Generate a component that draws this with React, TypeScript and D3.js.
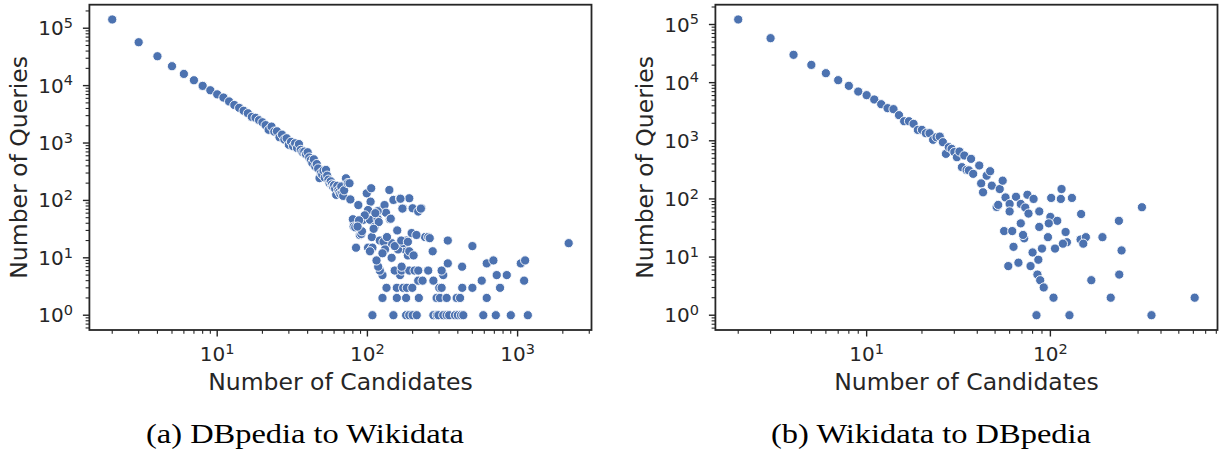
import React from "react";
import * as d3 from "d3";

// (a) DBpedia to Wikidata: [number of candidates, number of queries]
const dbpediaBand: [number, number][] = [
  [2, 142000], [3, 57000], [4, 32500], [5, 21800], [6, 16000], [7, 12400], [8, 9900], [9, 8300],
  [10, 7050], [11, 6200], [12, 5300], [13, 4600], [14, 4100], [15, 3650], [16, 3300], [17, 2850],
  [18, 2750], [19, 2500], [20, 2300], [21, 2050], [22, 1700], [23, 1930], [24, 1580], [25, 1600],
  [26, 1260], [27, 1400], [28, 1150], [29, 1210], [30, 930], [31, 1050], [32, 880], [33, 990],
  [34, 820], [35, 960], [36, 760], [37, 700], [38, 710], [39, 640], [40, 690], [41, 560],
  [42, 505], [43, 450], [44, 520], [45, 390], [46, 430], [47, 360], [48, 245], [49, 300],
  [50, 280], [51, 330], [52, 250], [53, 340], [54, 270], [55, 230], [56, 200], [57, 215],
  [58, 190], [59, 175], [60, 185], [61, 160], [62, 125], [63, 180], [64, 150], [65, 140],
  [66, 130], [67, 175], [68, 135], [69, 120], [70, 150], [72, 243], [74, 200], [76, 199], [77, 104],
];
const dbpediaScatter: [number, number][] = [
  [80, 47], [81, 35], [84, 15], [87, 83], [89, 25], [91, 26], [94, 46], [99, 133], [106, 163],
  [105, 95], [101, 68], [104, 46], [107, 23], [101, 15], [108, 15], [112, 35], [121, 20],
  [124, 68], [130, 83], [133, 61], [141, 47], [140, 152], [145, 18], [145, 10], [149, 102],
  [158, 30], [165, 109], [173, 73], [178, 14], [182, 20], [186, 11], [190, 109], [197, 27],
  [200, 73], [218, 64], [229, 73], [242, 23], [254, 23], [272, 13], [343, 20], [500, 16],
  [2188, 18], [83, 34], [92, 29], [117, 65], [117, 48], [119, 42], [110, 32], [104, 13],
  [128, 19], [131, 14], [160, 14], [173, 18], [190, 13], [166, 107], [171, 72], [227, 72],
  [143, 48], [113, 60], [96, 55], [88, 45], [86, 35], [126, 12], [135, 23], [152, 16],
  [168, 20], [186, 19], [203, 11], [212, 25], [260, 22],
];
const dbpediaLowRows: [number, number][] = [
  [108, 1], [149, 1], [181, 1], [190, 1], [200, 1], [213, 1], [275, 1], [290, 1], [297, 1],
  [320, 1], [337, 1], [350, 1], [383, 1], [400, 1], [420, 1], [435, 1], [591, 1], [716, 1],
  [901, 1], [1170, 1],
  [126, 2], [157, 2], [181, 2], [220, 2], [289, 2], [304, 2], [337, 2], [393, 2], [414, 2], [623, 2],
  [134, 3], [157, 3], [173, 3], [183, 3], [199, 3], [301, 3], [312, 3], [428, 3], [500, 3], [764, 3],
  [218, 4], [233, 4], [275, 4], [577, 4], [1105, 4],
  [126, 5], [165, 5], [320, 5], [726, 5], [847, 5],
  [121, 6], [152, 6], [169, 6], [190, 6], [206, 6], [218, 6], [254, 6], [312, 6],
  [118, 7], [169, 7], [427, 7],
  [343, 8], [623, 8], [1050, 8],
  [115, 9], [690, 9], [1122, 9],
];

// (b) Wikidata to DBpedia
const wikidataBand: [number, number][] = [
  [2, 122000], [3, 58200], [4, 30100], [5, 20200], [6, 14550], [7, 11030], [8, 8810], [9, 7030],
  [10, 6090], [11, 5130], [12, 4260], [13, 3640], [14, 3500], [15, 2760], [16, 2170], [17, 2170],
  [18, 1955], [19, 1540], [20, 1540], [21, 1350], [22, 1350], [23, 1040], [24, 1150], [25, 1180],
  [26, 946], [27, 596], [28, 776], [29, 726], [30, 640], [31, 522], [32, 654], [33, 352],
  [34, 558], [35, 316], [36, 310], [37, 489], [38, 270], [41, 376], [42, 185], [43, 130],
  [45, 251], [47, 300], [48, 169], [53, 148], [55, 206], [57, 106],
];
const wikidataScatter: [number, number][] = [
  [51, 73], [52, 79], [60, 82], [60, 61], [65, 109], [69, 82], [73, 71], [75, 118], [81, 100],
  [76, 56], [87, 61], [101, 104], [114, 100], [115, 148], [131, 104], [100, 49], [109, 42],
  [98, 38], [87, 33], [97, 22], [69, 38], [56, 28], [62, 28], [72, 21], [71, 24], [121, 27],
  [147, 55], [146, 20], [156, 22], [151, 17], [123, 18], [117, 17], [106, 14], [90, 14],
  [80, 12], [86, 9], [63, 15], [59, 7], [67, 8], [78, 7], [85, 5], [88, 4], [92, 3], [104, 2],
  [84, 1], [127, 1], [167, 4], [213, 2], [192, 22], [236, 42], [244, 13], [237, 5], [315, 72],
  [355, 1], [610, 2],
];

const dbpediaPoints = [...dbpediaBand, ...dbpediaScatter, ...dbpediaLowRows];
const wikidataPoints = [...wikidataBand, ...wikidataScatter];

const BLUE = "#4c72b0";
const INK = "#262626";
const SANS = "DejaVu Sans, sans-serif";

type PanelProps = {
  data: [number, number][];
  x0: number;
  x1: number;
  caption: string;
  captionX: number;
  captionWidth: number;
};

const TOP = 4.7;
const BOTTOM = 330;

function logDomain(vals: number[]): [number, number] {
  const lo = Math.log10(d3.min(vals)!);
  const hi = Math.log10(d3.max(vals)!);
  const pad = 0.05 * (hi - lo);
  return [Math.pow(10, lo - pad), Math.pow(10, hi + pad)];
}

function logTicks(domain: [number, number]) {
  const major: number[] = [];
  const minor: number[] = [];
  const e0 = Math.floor(Math.log10(domain[0])) - 1;
  const e1 = Math.ceil(Math.log10(domain[1])) + 1;
  for (let e = e0; e <= e1; e++) {
    const base = Math.pow(10, e);
    if (base >= domain[0] && base <= domain[1]) major.push(e);
    for (let k = 2; k <= 9; k++) {
      const v = k * base;
      if (v >= domain[0] && v <= domain[1]) minor.push(v);
    }
  }
  return { major, minor };
}

function Panel({ data, x0, x1, caption, captionX, captionWidth }: PanelProps) {
  const xDom = logDomain(data.map((d) => d[0]));
  const yDom = logDomain(data.map((d) => d[1]));
  const x = d3.scaleLog().domain(xDom).range([x0, x1]);
  const y = d3.scaleLog().domain(yDom).range([BOTTOM, TOP]);
  const xt = logTicks(xDom);
  const yt = logTicks(yDom);
  const MAJ = 6.5;
  const MIN = 3.8;
  return (
    <g>
      {data.map((d, i) => (
        <circle key={i} cx={x(d[0])} cy={y(d[1])} r={4.6} fill={BLUE} stroke="#fff" strokeWidth={0.9} />
      ))}
      <rect x={x0} y={TOP} width={x1 - x0} height={BOTTOM - TOP} fill="none" stroke={INK} strokeWidth={1.8} />
      {xt.minor.map((v, i) => (
        <line key={"xm" + i} x1={x(v)} x2={x(v)} y1={BOTTOM} y2={BOTTOM + MIN} stroke={INK} strokeWidth={1.1} />
      ))}
      {xt.major.map((e) => (
        <g key={"xM" + e}>
          <line x1={x(Math.pow(10, e))} x2={x(Math.pow(10, e))} y1={BOTTOM} y2={BOTTOM + MAJ} stroke={INK} strokeWidth={1.4} />
          <text x={x(Math.pow(10, e))} y={361} textAnchor="middle" fontFamily={SANS} fontSize={20} fill={INK}>
            10<tspan dy={-7.2} fontSize={14.5}>{e}</tspan>
          </text>
        </g>
      ))}
      {yt.minor.map((v, i) => (
        <line key={"ym" + i} x1={x0} x2={x0 - MIN} y1={y(v)} y2={y(v)} stroke={INK} strokeWidth={1.1} />
      ))}
      {yt.major.map((e) => (
        <g key={"yM" + e}>
          <line x1={x0} x2={x0 - MAJ} y1={y(Math.pow(10, e))} y2={y(Math.pow(10, e))} stroke={INK} strokeWidth={1.4} />
          <text x={x0 - 16.5} y={y(Math.pow(10, e)) + 7} textAnchor="end" fontFamily={SANS} fontSize={20} fill={INK}>
            10<tspan dy={-7.2} fontSize={14.5}>{e}</tspan>
          </text>
        </g>
      ))}
      <text x={(x0 + x1) / 2} y={389.5} textAnchor="middle" fontFamily={SANS} fontSize={23.5} fill={INK}>
        Number of Candidates
      </text>
      <text
        transform={`translate(${x0 - 62.6},${(TOP + BOTTOM) / 2}) rotate(-90)`}
        textAnchor="middle"
        fontFamily={SANS}
        fontSize={23.5}
        fill={INK}
      >
        Number of Queries
      </text>
      <text
        x={captionX}
        y={443}
        textAnchor="middle"
        fontFamily="Liberation Serif, serif"
        fontSize={27}
        fill="#000"
        textLength={captionWidth}
        lengthAdjust="spacingAndGlyphs"
      >
        {caption}
      </text>
    </g>
  );
}

export default function App() {
  return (
    <svg
      width={1220}
      height={453}
      viewBox="0 0 1220 453"
      style={{ position: "absolute", left: 0, top: 0, background: "#fff" }}
    >
      <rect x={0} y={0} width={1220} height={453} fill="#fff" />
      <Panel data={dbpediaPoints} x0={89.4} x1={591.5} caption="(a) DBpedia to Wikidata" captionX={305} captionWidth={318} />
      <Panel data={wikidataPoints} x0={715.4} x1={1217.5} caption="(b) Wikidata to DBpedia" captionX={931} captionWidth={320} />
    </svg>
  );
}
